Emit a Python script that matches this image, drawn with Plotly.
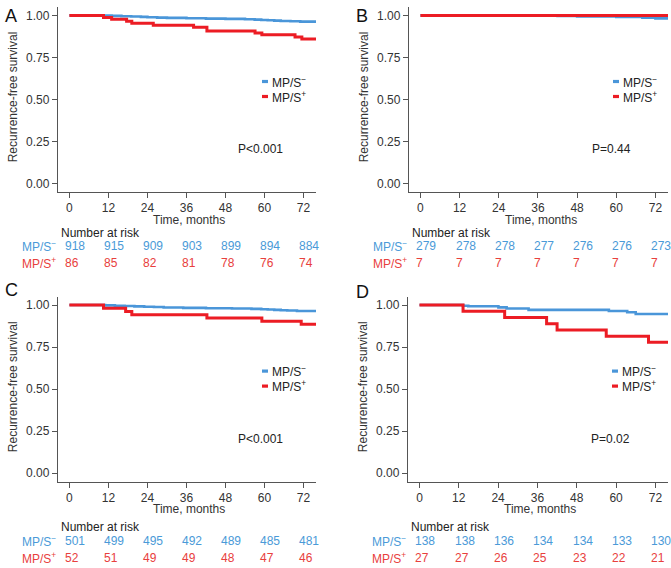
import plotly.graph_objects as go

W, H = 671, 568
FONT = "Liberation Sans, Arial, Helvetica, sans-serif"
BLUE = "#4A96D9"
RED = "#EC1C24"
BLUE_TXT = "#4A9AD8"
RED_TXT = "#E8403D"
AXIS_COL = "#555555"
TXT_COL = "#333333"

# ---------------- data ----------------
risk_times = [0, 12, 24, 36, 48, 60, 72]
y_ticks = [0.0, 0.25, 0.5, 0.75, 1.0]
group_names = ["MP/S<sup>−</sup>", "MP/S<sup>+</sup>"]
panel_letters = ["A", "B", "C", "D"]
p_values = ["P<0.001", "P=0.44", "P<0.001", "P=0.02"]

# Panel A
a_neg_t = [0, 10, 13, 16, 19, 22, 24, 27, 30, 36, 42, 48, 54, 57, 59, 61, 63, 65, 68, 71, 75.85]
a_neg_s = [1.0, 0.999, 0.997, 0.995, 0.993, 0.991, 0.989, 0.987, 0.985, 0.983, 0.981, 0.979,
           0.977, 0.975, 0.973, 0.971, 0.969, 0.967, 0.965, 0.963, 0.963]
a_pos_t = [0, 10.5, 13.0, 17.6, 19.2, 25.8, 38.2, 42.3, 57.1, 59.2, 69.4, 71.5, 75.85]
a_pos_s = [1.0, 0.988, 0.977, 0.965, 0.953, 0.942, 0.930, 0.907, 0.895, 0.884, 0.872, 0.860, 0.860]
a_risk_neg = [918, 915, 909, 903, 899, 894, 884]
a_risk_pos = [86, 85, 82, 81, 78, 76, 74]

# Panel B
b_neg_t = [0, 42, 48, 55, 60, 64, 68, 72, 75.85]
b_neg_s = [1.0, 0.996, 0.993, 0.993, 0.990, 0.990, 0.986, 0.982, 0.982]
b_pos_t = [0, 75.85]
b_pos_s = [1.0, 1.0]
b_risk_neg = [279, 278, 278, 277, 276, 276, 273]
b_risk_pos = [7, 7, 7, 7, 7, 7, 7]

# Panel C
c_neg_t = [0, 11, 14, 17, 20, 23, 26, 29, 35, 42, 50, 56, 59, 61, 63, 65, 67, 70, 75.85]
c_neg_s = [1.0, 0.998, 0.996, 0.994, 0.992, 0.990, 0.988, 0.985, 0.983, 0.981, 0.979, 0.977,
           0.975, 0.973, 0.971, 0.969, 0.967, 0.964, 0.964]
c_pos_t = [0, 10.5, 17.3, 19.2, 42.3, 59.2, 71.3, 75.85]
c_pos_s = [1.0, 0.981, 0.962, 0.942, 0.923, 0.904, 0.885, 0.885]
c_risk_neg = [501, 499, 495, 492, 489, 485, 481]
c_risk_pos = [52, 51, 49, 49, 48, 47, 46]

# Panel D
d_neg_t = [0, 13.3, 14.9, 24.1, 26.6, 33.3, 57.8, 63.4, 66.0, 75.85]
d_neg_s = [1.0, 0.996, 0.993, 0.986, 0.979, 0.971, 0.964, 0.957, 0.947, 0.947]
d_pos_t = [0, 13.3, 26.0, 38.8, 42.0, 57.0, 69.9, 75.85]
d_pos_s = [1.0, 0.963, 0.926, 0.889, 0.852, 0.815, 0.778, 0.778]
d_risk_neg = [138, 138, 136, 134, 134, 133, 130]
d_risk_pos = [27, 27, 26, 25, 23, 22, 21]

curves = [
    (a_neg_t, a_neg_s, a_pos_t, a_pos_s, a_risk_neg, a_risk_pos),
    (b_neg_t, b_neg_s, b_pos_t, b_pos_s, b_risk_neg, b_risk_pos),
    (c_neg_t, c_neg_s, c_pos_t, c_pos_s, c_risk_neg, c_risk_pos),
    (d_neg_t, d_neg_s, d_pos_t, d_pos_s, d_risk_neg, d_risk_pos),
]

# ---------------- layout (pixels) ----------------
# left, right, top, bottom of each plot box
boxes = [(58, 316, 7, 191.7), (409, 668, 7, 191.7),
         (58, 316, 296.6, 481.7), (408, 668, 296.6, 481.7)]
letter_pos = [(11, 15.5), (362, 15.5), (11, 290), (362, 291.5)]
# rows: time title y, "Number at risk" y, neg row y, pos row y
row_text_y = [(219.5, 232.5, 246.3, 263.3), (509, 526.7, 540.7, 558.3)]


def px(x):
    return x / W


def py(y):
    return 1 - y / H


fig = go.Figure()
annotations = []
shapes = []
layout_axes = {}

for i, (nt, ns, pt, ps, rn, rp) in enumerate(curves):
    k = "" if i == 0 else str(i + 1)
    xa, ya = "x" + k, "y" + k
    fig.add_trace(go.Scatter(x=nt, y=ns, mode="lines", line=dict(color=BLUE, width=2.6, shape="hv"),
                             xaxis=xa, yaxis=ya, showlegend=False, hoverinfo="skip"))
    fig.add_trace(go.Scatter(x=pt, y=ps, mode="lines", line=dict(color=RED, width=3, shape="hv"),
                             xaxis=xa, yaxis=ya, showlegend=False, hoverinfo="skip"))
    L, R, T, B = boxes[i]
    common = dict(showline=True, linecolor=AXIS_COL, linewidth=1.3, ticks="outside", ticklen=5,
                  tickwidth=1.2, tickcolor=AXIS_COL, showgrid=False, zeroline=False,
                  tickfont=dict(family=FONT, size=12, color=TXT_COL))
    layout_axes["xaxis" + k] = dict(domain=[px(L), px(R)], range=[-3.5, 75.85], tickvals=risk_times,
                                    anchor=ya, **common)
    layout_axes["yaxis" + k] = dict(domain=[py(B), py(T)], range=[-0.05, 1.05], tickvals=y_ticks,
                                    tickformat=".2f", anchor=xa, **common)

    row = row_text_y[i // 2]
    # panel letter
    lx, ly = letter_pos[i]
    annotations.append(dict(text=panel_letters[i], x=px(lx), y=py(ly), xref="paper", yref="paper",
                            showarrow=False, font=dict(family=FONT, size=18, color="#111"),
                            xanchor="center", yanchor="middle"))
    # y-axis title
    annotations.append(dict(text="Recurrence-free survival", x=px(L - 45), y=py((T + B) / 2 - 2),
                            xref="paper", yref="paper", showarrow=False, textangle=-90,
                            font=dict(family=FONT, size=12, color=TXT_COL),
                            xanchor="center", yanchor="middle"))
    # x-axis title
    annotations.append(dict(text="Time, months", x=px((L + R) / 2 + 2), y=py(row[0]),
                            xref="paper", yref="paper", showarrow=False,
                            font=dict(family=FONT, size=12, color=TXT_COL),
                            xanchor="center", yanchor="middle"))
    # p value
    annotations.append(dict(text=p_values[i], x=px(L + 202), y=py(T + 142), xref="paper", yref="paper",
                            showarrow=False, font=dict(family=FONT, size=12, color="#222"),
                            xanchor="center", yanchor="middle"))
    # legend
    for j, (col, yy) in enumerate([(BLUE, T + 74.5), (RED, T + 89.5)]):
        shapes.append(dict(type="line", xref="paper", yref="paper", x0=px(L + 204), x1=px(L + 210),
                           y0=py(yy), y1=py(yy), line=dict(color=col, width=3.2)))
        annotations.append(dict(text=group_names[j], x=px(L + 212), y=py(yy), xref="paper", yref="paper",
                                showarrow=False, font=dict(family=FONT, size=12, color="#222"),
                                xanchor="left", yanchor="middle"))
    # number at risk
    annotations.append(dict(text="Number at risk", x=px(L + 1), y=py(row[1]), xref="paper", yref="paper",
                            showarrow=False, font=dict(family=FONT, size=12, color="#222"),
                            xanchor="left", yanchor="middle"))
    for vals, yy, col, name in [(rn, row[2], BLUE_TXT, group_names[0]), (rp, row[3], RED_TXT, group_names[1])]:
        annotations.append(dict(text=name, x=px(L - 0.5), y=py(yy), xref="paper", yref="paper",
                                showarrow=False, font=dict(family=FONT, size=12, color=col),
                                xanchor="right", yanchor="middle"))
        for t, v in zip(risk_times, vals):
            annotations.append(dict(text=str(v), x=t, y=py(yy), xref=xa, yref="paper", xshift=-6,
                                    showarrow=False, font=dict(family=FONT, size=12, color=col),
                                    xanchor="left", yanchor="middle"))

fig.update_layout(width=W, height=H, autosize=False, margin=dict(l=0, r=0, t=0, b=0),
                  paper_bgcolor="white", plot_bgcolor="white", showlegend=False,
                  annotations=annotations, shapes=shapes, font=dict(family=FONT), **layout_axes)

fig.write_html("out.html", config={"displayModeBar": False},
               post_script="document.body.style.margin='0px';document.body.style.overflow='hidden';")
